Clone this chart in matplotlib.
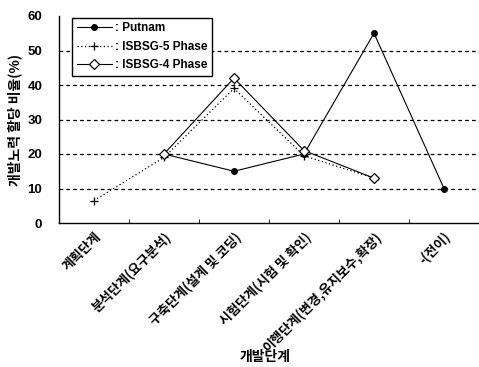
import numpy as np
import matplotlib
matplotlib.use("Agg")
import matplotlib.pyplot as plt

plt.rcParams['font.family'] = ['Noto Sans CJK KR', 'DejaVu Sans']

phases = ["계획단계", "분석단계(요구분석)", "구축단계(설계 및 코딩)",
          "시험단계(시험 및 확인)", "이행단계(변경,유지보수,확장)", "-(전이)"]
putnam = [np.nan, 20, 15, 20, 55, 10]
isbsg5 = [6.5, 19, 39, 19.5, 13, np.nan]
isbsg4 = [np.nan, 20, 42, 21, 13, np.nan]
yticks = [0, 10, 20, 30, 40, 50, 60]

fig = plt.figure(figsize=(4.79, 3.67), dpi=100)
ax = fig.add_axes([59/479, 1 - 223/367, 420/479, 207/367])
x = np.arange(len(phases))

ax.plot(x, putnam, color='black', lw=0.8, marker='o', ms=4,
        mfc='black', mec='black', label=': Putnam')
ax.plot(x, isbsg5, color='black', lw=0.9, ls=(0, (1, 2)), marker='+', ms=6,
        mew=0.9, label=': ISBSG-5 Phase')
ax.plot(x, isbsg4, color='black', lw=0.8, marker='D', ms=5,
        mfc='white', mec='black', mew=0.9, label=': ISBSG-4 Phase')

ax.set_xlim(-0.5, len(phases) - 0.5)
ax.set_ylim(0, 60)
ax.set_yticks(yticks)
ax.set_yticklabels([str(v) for v in yticks], fontsize=9.5, fontweight='bold',
                   family=['Liberation Sans'])
for v in yticks[1:-1]:
    ax.axhline(v, color='black', lw=0.9, ls=(0, (3, 2.5)), zorder=0)

ax.set_xticks(x)
ax.set_xticklabels(phases, rotation=45, ha='right', rotation_mode='anchor',
                   fontsize=9.4, fontweight='bold')
ax.set_xticks(np.arange(0.5, len(phases) - 0.5, 1), minor=True)
ax.tick_params(axis='x', which='major', length=0, pad=5)
ax.tick_params(axis='x', which='minor', direction='in', length=3)
ax.tick_params(axis='y', length=0, pad=12)

for s in ['top', 'right']:
    ax.spines[s].set_visible(False)
ax.spines['left'].set_linewidth(1.0)
ax.spines['bottom'].set_linewidth(1.0)

ax.set_ylabel("개발노력 할당 비율(%)", fontsize=10, fontweight='bold')
ax.yaxis.label.set_va('center')
ax.yaxis.set_label_coords(-44/420, 0.5)
ax.set_xlabel("개발단계", fontsize=10, fontweight='bold')
ax.xaxis.label.set_va('center')
ax.xaxis.set_label_coords(0.49, -134/207)

leg = ax.legend(loc='upper left', bbox_to_anchor=(0.017, 1.02),
                frameon=True, fancybox=False, edgecolor='black',
                handlelength=3.0, handletextpad=0.25, borderpad=0.4,
                labelspacing=0.55,
                prop={'weight': 'bold', 'size': 8.5, 'family': 'Liberation Sans'})
leg.get_frame().set_linewidth(1.0)
leg.get_frame().set_alpha(1)

fig.savefig("out.png", dpi=100)
